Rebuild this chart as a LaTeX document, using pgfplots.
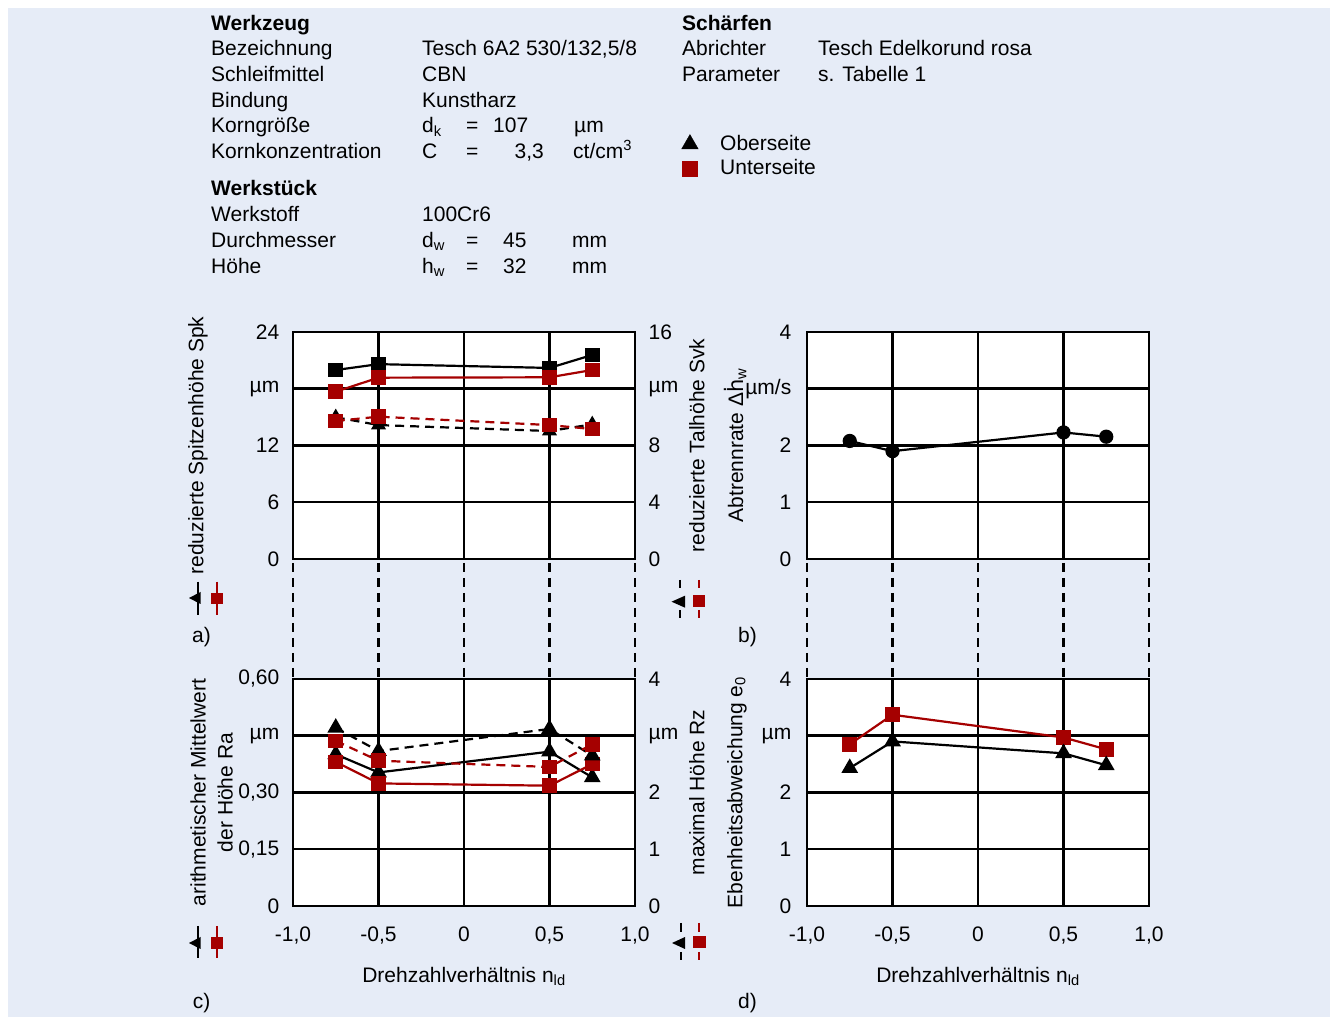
\documentclass[border=0pt]{standalone}
\usepackage{pgfplots}
\pgfplotsset{compat=1.18}
\usepackage{fontspec}
\setmainfont{Liberation Sans}
\newfontfamily\dv{DejaVu Sans}
\definecolor{dred}{RGB}{165,0,0}
\definecolor{bgc}{RGB}{230,236,247}
\pgfplotsset{
  geom/.style={width=342pt, height=227pt, scale only axis, anchor=south west,
    xmin=-1, xmax=1, xtick={-1,-0.5,0,0.5,1},
    tick style={draw=none}, major tick length=0pt, clip=false},
  base/.style={geom,
    axis background/.style={fill=white},
    axis line style={line width=2.6pt},
    grid=major, major grid style={black, line width=2.5pt},
    yticklabel style={xshift=-6.5pt}},
  rightax/.style={geom, axis x line=none, axis y line*=right,
    axis line style={line width=2.6pt,-},
    yticklabel style={xshift=6.5pt}},
  noxlab/.style={xticklabels={}},
  botx/.style={xticklabels={{-1,0},{-0,5},0,{0,5},{1,0}},
    xticklabel style={anchor=base, yshift=-36pt},
    every axis x label/.style={at={(axis description cs:0.5,-0.335)},anchor=base},
    xlabel={Drehzahlverh\"altnis n\textsubscript{ld}}},
  ylab/.style={every axis y label/.style={at={(axis description cs:#1,0.5)},rotate=90,anchor=center}},
  sb/.style={black, line width=2.2pt, mark=square*, mark size=6.2pt, mark options={solid}},
  sr/.style={dred, line width=2.2pt, mark=square*, mark size=6.2pt, mark options={solid}},
  tb/.style={black, line width=2.2pt, mark=triangle*, mark size=7.5pt, mark options={solid}},
  dsh/.style={dash pattern=on 9pt off 6pt},
}
\begin{document}
\fontsize{21}{25}\selectfont
\begin{tikzpicture}[x=1pt,y=1pt]
\fill[bgc] (8,0) rectangle (1330,1009);
\path (0,0) rectangle (1338,1017);
% header left
\begin{scope}[every node/.style={anchor=base west, inner sep=0pt}]
\node at (211,986.3) {\textbf{Werkzeug}};
\node at (211,961) {Bezeichnung};   \node at (422,961) {Tesch 6A2 530/132,5/8};
\node at (211,935.3) {Schleifmittel}; \node at (422,935.3) {CBN};
\node at (211,909.7) {Bindung};     \node at (422,909.7) {Kunstharz};
\node at (211,884.3) {Korngr\"o\ss e}; \node at (422,884.3) {d\textsubscript{k}};
\node at (466,884.3) {=}; \node at (493,884.3) {107}; \node at (574,884.3) {µm};
\node at (211,858.7) {Kornkonzentration}; \node at (422,858.7) {C};
\node at (466,858.7) {=}; \node[anchor=base east] at (544,858.7) {3,3}; \node at (573,858.7) {ct/cm\textsuperscript{3}};
\node at (211,821) {\textbf{Werkst\"uck}};
\node at (211,795) {Werkstoff}; \node at (422,795) {100Cr6};
\node at (211,769.3) {Durchmesser}; \node at (422,769.3) {d\textsubscript{w}};
\node at (466,769.3) {=}; \node at (503,769.3) {45}; \node at (572,769.3) {mm};
\node at (211,743.7) {H\"ohe}; \node at (422,743.7) {h\textsubscript{w}};
\node at (466,743.7) {=}; \node at (503,743.7) {32}; \node at (572,743.7) {mm};
% header right
\node at (682,986.3) {\textbf{Sch\"arfen}};
\node at (682,961) {Abrichter}; \node at (818,961) {Tesch Edelkorund rosa};
\node at (682,935.3) {Parameter}; \node at (818,935.3) {s. Tabelle 1};
\end{scope}
% panel labels
\node at (201.5,380) {a)};
\node at (747.5,380) {b)};
\node at (201.5,14) {c)};
\node at (747.5,14) {d)};
% dashed connectors
\foreach \xx in {293,378.5,464,549.5,635,807,892.5,978,1063.5,1149}
  \draw[line width=2.5pt, dash pattern=on 9pt off 6pt, dash phase=-4pt] (\xx,458) -- (\xx,338);
% axis-assignment glyphs
\begin{scope}[line width=2.2pt]
% panel a left
\draw (198.3,435.3) -- (198.3,402); \fill (189,419) -- (200.5,425) -- (200.5,413) -- cycle;
\draw[dred] (216.7,435.3) -- (216.7,402); \fill[dred] (210.7,412.7) rectangle (222.7,424.3);
% panel a right
\draw (680,437) -- (680,429); \draw (680,407) -- (680,399);
\fill (671.5,415.3) -- (685,421.3) -- (685,409.3) -- cycle;
\draw[dred] (699,437) -- (699,429); \draw[dred] (699,407) -- (699,399);
\fill[dred] (692.5,410) rectangle (705,422);
% panel c left
\draw (198.3,91) -- (198.3,59); \fill (189,74) -- (200.5,80) -- (200.5,68) -- cycle;
\draw[dred] (216.7,91) -- (216.7,59); \fill[dred] (210.7,68) rectangle (222.7,80);
% panel c right
\draw (680.7,94) -- (680.7,85); \draw (680.7,65) -- (680.7,57);
\fill (672,74) -- (685,80) -- (685,68) -- cycle;
\draw[dred] (699.3,94) -- (699.3,85); \draw[dred] (699.3,65) -- (699.3,57);
\fill[dred] (692.5,68.5) rectangle (705.5,80.5);
\end{scope}

% ---------- panel a ----------
\begin{axis}[base, noxlab, at={(293pt,458pt)},
  ymin=0, ymax=24, ytick={0,6,12,18,24}, yticklabels={0,6,12,µm,24},
  ylab=-0.278, ylabel={reduzierte Spitzenh\"ohe Spk},
  legend style={at={(axis description cs:1.136,1.878)}, anchor=north west,
    draw=none, fill=none, inner sep=0pt, row sep=2pt,
    nodes={inner sep=2pt, anchor=base west}},
  legend cell align=left,
  legend image code/.code={\draw[#1] plot coordinates {(0pt,6pt)};},
  ]
\addlegendimage{only marks, mark=triangle*, mark size=9.5pt, black}
\addlegendentry{\hspace{20pt}Oberseite}
\addlegendimage{only marks, mark=square*, mark size=7.5pt, dred}
\addlegendentry{\hspace{20pt}Unterseite}
\addplot[sb, forget plot] coordinates {(-0.75,19.98) (-0.5,20.6) (0.5,20.2) (0.75,21.57)};
\addplot[sr, forget plot] coordinates {(-0.75,17.69) (-0.5,19.17) (0.5,19.21) (0.75,19.98)};
\end{axis}
\begin{axis}[rightax, at={(293pt,458pt)},
  ymin=0, ymax=16, ytick={0,4,8,12,16}, yticklabels={0,4,8,µm,16},
  ylab=1.181, ylabel={reduzierte Talh\"ohe Svk}]
\addplot[tb, dsh, mark size=6.5pt] coordinates {(-0.75,9.99) (-0.5,9.44) (0.5,9.02) (0.75,9.49)};
\addplot[sr, dsh] coordinates {(-0.75,9.73) (-0.5,10.03) (0.5,9.44) (0.75,9.16)};
\end{axis}

% ---------- panel b ----------
\begin{axis}[base, noxlab, at={(807pt,458pt)},
  yticklabel style={xshift=-2pt},
  ymin=0, ymax=4, ytick={0,1,2,3,4}, yticklabels={0,1,2,µm/s,4},
  ylab=-0.21, ylabel={Abtrennrate Δ{\dv ḣ}\textsubscript{w}}]
\addplot[black, line width=2.2pt, mark=*, mark size=6pt] coordinates {(-0.75,2.08) (-0.5,1.90) (0.5,2.23) (0.75,2.155)};
\end{axis}

% ---------- panel c ----------
\begin{axis}[base, botx, at={(293pt,111pt)},
  ymin=0, ymax=0.6, ytick={0,0.15,0.3,0.45,0.6}, yticklabels={0,{0,15},{0,30},µm,{0,60}},
  every axis y label/.style={at={(axis description cs:-0.238,0.5)},rotate=90,anchor=center,align=center,font=\fontsize{21}{27}\selectfont},
  ylabel={arithmetischer Mittelwert\\der H\"ohe Ra}]
\addplot[tb] coordinates {(-0.75,0.401) (-0.5,0.353) (0.5,0.408) (0.75,0.340)};
\addplot[sr] coordinates {(-0.75,0.381) (-0.5,0.324) (0.5,0.318) (0.75,0.375)};
\end{axis}
\begin{axis}[rightax, at={(293pt,111pt)},
  ymin=0, ymax=4, ytick={0,1,2,3,4}, yticklabels={0,1,2,µm,4},
  ylab=1.181, ylabel={maximal H\"ohe Rz}]
\addplot[tb, dsh] coordinates {(-0.75,3.14) (-0.5,2.73) (0.5,3.12) (0.75,2.65)};
\addplot[sr, dsh] coordinates {(-0.75,2.91) (-0.5,2.56) (0.5,2.45) (0.75,2.85)};
\end{axis}

% ---------- panel d ----------
\begin{axis}[base, botx, at={(807pt,111pt)},
  yticklabel style={xshift=-2pt},
  ymin=0, ymax=4, ytick={0,1,2,3,4}, yticklabels={0,1,2,µm,4},
  ylab=-0.205, ylabel={Ebenheitsabweichung e\textsubscript{0}}]
\addplot[sr] coordinates {(-0.75,2.85) (-0.5,3.37) (0.5,2.97) (0.75,2.76)};
\addplot[tb] coordinates {(-0.75,2.43) (-0.5,2.90) (0.5,2.69) (0.75,2.48)};
\end{axis}
\end{tikzpicture}
\end{document}
